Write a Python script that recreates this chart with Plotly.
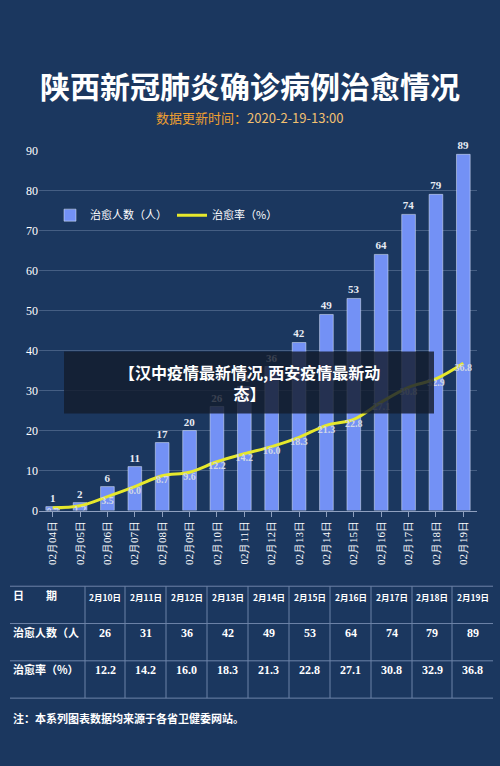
import plotly.graph_objects as go

dates = ["02月04日","02月05日","02月06日","02月07日","02月08日","02月09日","02月10日","02月11日",
         "02月12日","02月13日","02月14日","02月15日","02月16日","02月17日","02月18日","02月19日"]
cured = [1,2,6,11,17,20,26,31,36,42,49,53,64,74,79,89]
rate = [0.7,1.2,3.5,6.0,8.7,9.6,12.2,14.2,16.0,18.3,21.3,22.8,27.1,30.8,32.9,36.8]
yticks = [0,10,20,30,40,50,60,70,80,90]

tbl_dates = ["2月10日","2月11日","2月12日","2月13日","2月14日","2月15日","2月16日","2月17日","2月18日","2月19日"]
tbl_cured = cured[6:]
tbl_rate = rate[6:]

W, H = 500, 766
def px(x): return x / W
def py(y): return 1 - y / H

BG = "#1b375f"
serif = "Liberation Serif"
cjk = "Noto Sans CJK SC"

fig = go.Figure()
fig.add_bar(x=dates, y=cured, name="治愈人数（人）", marker_color="#7391f5", width=0.5,
            text=[f"<b>{v}</b>" for v in cured], textposition="outside", cliponaxis=False,
            textfont=dict(color="#e8ecf4", size=11, family=serif))
fig.add_scatter(x=dates, y=rate, name="治愈率（%）", mode="lines+text",
                line=dict(color="#e6e82c", width=3, shape="spline"),
                text=[f"<b>{v:.1f}</b>" for v in rate], textposition="bottom center",
                textfont=dict(color="#d0d7e6", size=10, family=serif))

ann = []
shapes = []
ann.append(dict(x=0.5, y=py(55), xref="paper", yref="paper", xanchor="center", text="<b>陕西新冠肺炎确诊病例治愈情况</b>",
                showarrow=False, font=dict(color="white", size=30, family=cjk)))
ann.append(dict(x=0.5, y=py(101), xref="paper", yref="paper", xanchor="center",
                text="<span style='color:#f0a030'>数据更新时间：</span><span style='color:#f2c070'>2020-2-19-13:00</span>",
                showarrow=False, font=dict(size=13, family=cjk)))

rows_y = [590, 628, 666, 704]
for y in rows_y:
    shapes.append(dict(type="line", xref="paper", yref="paper", x0=px(10), x1=px(493), y0=py(y), y1=py(y),
                       line=dict(color="#6d83a8", width=1)))
colx = [85,125,166,207,248,289,330,371,412,452]
for x in colx:
    shapes.append(dict(type="line", xref="paper", yref="paper", x0=px(x), x1=px(x), y0=py(590), y1=py(704),
                       line=dict(color="#6d83a8", width=1)))
centers = [(colx[i] + (colx[i+1] if i+1 < len(colx) else 493)) / 2 for i in range(len(colx))]
labels = ["日　　期", "治愈人数（人", "治愈率（%）"]
for r, lab in enumerate(labels):
    yc = (rows_y[r] + rows_y[r+1]) / 2
    ann.append(dict(x=px(11), y=py(yc), xref="paper", yref="paper", xanchor="left", text=f"<b>{lab}</b>",
                    showarrow=False, font=dict(color="white", size=11, family=cjk)))
for i, c in enumerate(centers):
    for r, vals in enumerate([tbl_dates, [str(v) for v in tbl_cured], [f"{v:.1f}" for v in tbl_rate]]):
        yc = (rows_y[r] + rows_y[r+1]) / 2
        ann.append(dict(x=px(c), y=py(yc), xref="paper", yref="paper", xanchor="center", text=f"<b>{vals[i]}</b>",
                        showarrow=False,
                        font=dict(color="white", size=8.5 if r == 0 else 12,
                                  family=(cjk if r == 0 else serif))))
ann.append(dict(x=px(11), y=py(734), xref="paper", yref="paper", xanchor="left",
                text="<b>注：本系列图表数据均来源于各省卫健委网站。</b>", showarrow=False,
                font=dict(color="white", size=11, family=cjk)))

shapes.append(dict(type="rect", xref="paper", yref="paper", x0=px(64), x1=px(434), y0=py(414), y1=py(351),
                   fillcolor="rgba(20,28,45,0.82)", line=dict(width=0)))
ann.append(dict(x=px(249), y=py(382), xref="paper", yref="paper", xanchor="center",
                text="<b>【汉中疫情最新情况,西安疫情最新动<br>态】</b>", showarrow=False,
                font=dict(color="white", size=16, family=cjk)))

fig.update_layout(
    width=W, height=H, margin=dict(l=0, r=0, t=0, b=0),
    paper_bgcolor=BG, plot_bgcolor=BG, showlegend=True,
    legend=dict(orientation="h", x=px(50), y=py(212), yanchor="middle", bgcolor="rgba(0,0,0,0)",
                font=dict(color="white", size=11, family=cjk)),
    xaxis=dict(domain=[px(39), px(477)], range=[-0.5, 15.5], tickangle=-90, type="category",
               tickfont=dict(color="white", size=11, family=serif), showgrid=False,
               showline=True, linecolor="#8fa0bf", ticks="outside", tickcolor="#8fa0bf"),
    yaxis=dict(domain=[py(513), py(146)], range=[0, 90], tickvals=yticks, showgrid=True,
               gridcolor="rgba(150,170,200,0.35)", zeroline=False,
               tickfont=dict(color="white", size=12, family=serif)),
    annotations=ann, shapes=shapes, bargap=0.5,
)
fig.write_html("out.html", config={"displayModeBar": False},
               post_script="document.body.style.margin='0';document.body.style.overflow='hidden';")
